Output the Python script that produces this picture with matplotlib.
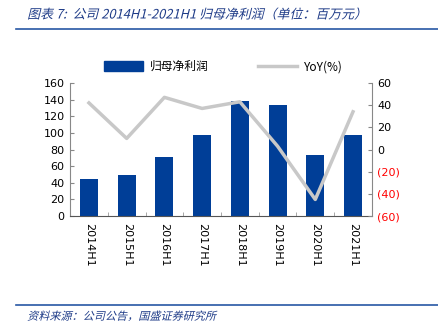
import matplotlib
matplotlib.use("Agg")
import matplotlib.pyplot as plt
import numpy as np
from matplotlib.lines import Line2D
from matplotlib.patches import Patch
from matplotlib.patheffects import AbstractPathEffect
from matplotlib.transforms import Affine2D

categories = ["2014H1", "2015H1", "2016H1", "2017H1", "2018H1", "2019H1", "2020H1", "2021H1"]
profit = [45, 49, 71, 97, 138, 134, 74, 98]
yoy = [42, 10, 47, 37, 43, 3, -45, 34]
left_ticks = [0, 20, 40, 60, 80, 100, 120, 140, 160]
right_ticks = [-60, -40, -20, 0, 20, 40, 60]

cjk = ['Noto Sans CJK SC', 'DejaVu Sans']
bar_color = "#003E97"
line_color = "#C8C8C8"
title_color = "#1F3C88"


class Slant(AbstractPathEffect):
    def __init__(self, deg=14):
        super().__init__()
        self.deg = deg

    def draw_path(self, renderer, gc, tpath, affine, rgbFace=None):
        new_aff = Affine2D().skew_deg(self.deg, 0) + affine
        renderer.draw_path(gc, tpath, new_aff, rgbFace)


fig = plt.figure(figsize=(4.38, 3.33), dpi=100)
ax = fig.add_axes([0.16, 0.351, 0.689, 0.40])
x = np.arange(len(categories))
ax.bar(x, profit, width=0.48, color=bar_color, zorder=2)
ax.set_xlim(-0.5, len(categories) - 0.5)
ax.set_ylim(0, 160)
ax.set_yticks(left_ticks)
ax.set_yticklabels([str(v) for v in left_ticks], fontsize=8)
ax.set_xticks(x)
ax.set_xticklabels(categories, rotation=-90, fontsize=8)
ax.tick_params(axis='x', length=0, pad=5)
ax.set_xticks(np.arange(len(categories) + 1) - 0.5, minor=True)
ax.tick_params(axis='x', which='minor', direction='in', length=3, color="#999999")
ax.tick_params(axis='y', direction='in', length=3, color="#888888", pad=4)
for s in ['top', 'right']:
    ax.spines[s].set_visible(False)
ax.spines['left'].set_color("#888888")
ax.spines['bottom'].set_color("#555555")

ax2 = ax.twinx()
ax2.plot(x, yoy, color=line_color, lw=2.5, zorder=3)
ax2.set_ylim(-60, 60)
ax2.set_yticks(right_ticks)
labels = [f"({abs(v)})" if v < 0 else str(v) for v in right_ticks]
ax2.set_yticklabels(labels, fontsize=8)
for lab, v in zip(ax2.get_yticklabels(), right_ticks):
    lab.set_color("red" if v < 0 else "black")
ax2.tick_params(axis='y', direction='in', length=3, color="#888888", pad=4)
for s in ['top', 'left', 'bottom']:
    ax2.spines[s].set_visible(False)
ax2.spines['right'].set_color("#888888")

# legend
handles = [Patch(facecolor=bar_color, edgecolor=bar_color), Line2D([0], [0], color=line_color, lw=2.5)]
leg = fig.legend(handles, ["归母净利润", "YoY(%)"], loc='center', bbox_to_anchor=(0.51, 0.80),
                 ncol=2, frameon=False, handlelength=3.3, handleheight=0.9,
                 columnspacing=4.2, handletextpad=0.6, prop={'family': cjk, 'size': 8.5})

# title & footer
fig.text(0.062, 0.955, "图表 7:  公司 2014H1-2021H1 归母净利润（单位：百万元）", fontsize=9.3,
         color=title_color, family=cjk, va='center', path_effects=[Slant(14)])
fig.add_artist(Line2D([0.037, 1.0], [0.912, 0.912], color="#2857A4", lw=1.2))
fig.add_artist(Line2D([0.037, 1.0], [0.085, 0.085], color="#2857A4", lw=1.2))
fig.text(0.062, 0.05, "资料来源：公司公告，国盛证券研究所", fontsize=8,
         color=title_color, family=cjk, va='center', path_effects=[Slant(14)])

fig.savefig("out.png", dpi=100)
